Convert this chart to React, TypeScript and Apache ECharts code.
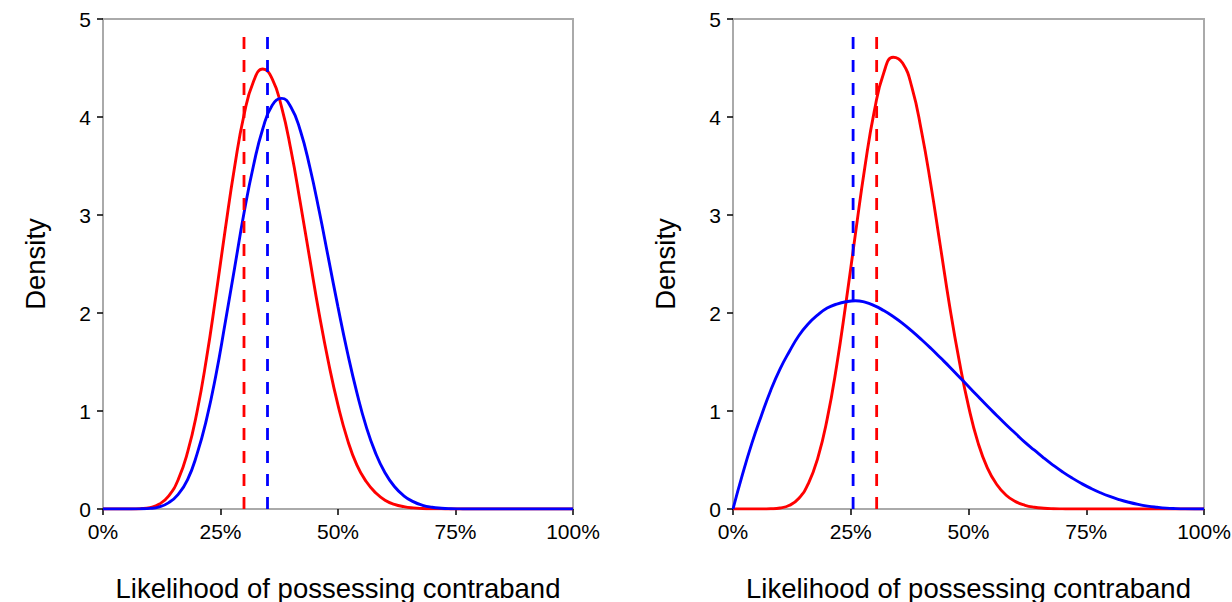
import React, { useEffect, useRef } from "react";
import * as echarts from "echarts";

// x grid: 0 to 1 in steps of 0.02 (51 points)
const leftRed = [
  0, 0, 0, 0, 0.003, 0.014, 0.05, 0.135, 0.3, 0.58,
  0.99, 1.53, 2.17, 2.85, 3.49, 4.02, 4.36, 4.49, 4.39, 4.1,
  3.66, 3.12, 2.55, 1.99, 1.49, 1.06, 0.71, 0.45, 0.28, 0.165,
  0.09, 0.048, 0.024, 0.011, 0.005, 0.002, 0.001, 0, 0, 0,
  0, 0, 0, 0, 0, 0, 0, 0, 0, 0, 0,
];
const leftBlue = [
  0, 0, 0, 0, 0.002, 0.006, 0.022, 0.065, 0.15, 0.3,
  0.56, 0.91, 1.36, 1.9, 2.46, 3.02, 3.5, 3.88, 4.12, 4.19,
  4.1, 3.86, 3.49, 3.04, 2.55, 2.06, 1.6, 1.19, 0.84, 0.57,
  0.37, 0.23, 0.135, 0.075, 0.038, 0.018, 0.008, 0.003, 0.001, 0,
  0, 0, 0, 0, 0, 0, 0, 0, 0, 0, 0,
];
const rightRed = [
  0, 0, 0, 0, 0.002, 0.01, 0.038, 0.11, 0.26, 0.52,
  0.92, 1.46, 2.11, 2.81, 3.49, 4.06, 4.45, 4.61, 4.55, 4.3,
  3.86, 3.31, 2.69, 2.07, 1.52, 1.05, 0.68, 0.42, 0.25, 0.14,
  0.075, 0.038, 0.018, 0.008, 0.003, 0.001, 0, 0, 0, 0,
  0, 0, 0, 0, 0, 0, 0, 0, 0, 0, 0,
];
const rightBlue = [
  0, 0.35, 0.67, 0.95, 1.21, 1.43, 1.61, 1.77, 1.89, 1.98,
  2.05, 2.09, 2.115, 2.125, 2.11, 2.075, 2.025, 1.965, 1.895, 1.815,
  1.73, 1.64, 1.545, 1.45, 1.35, 1.25, 1.15, 1.05, 0.955, 0.86,
  0.77, 0.68, 0.6, 0.52, 0.446, 0.378, 0.316, 0.26, 0.21, 0.166,
  0.128, 0.096, 0.069, 0.047, 0.03, 0.018, 0.009, 0.004, 0.001, 0, 0,
];

// vertical dashed reference lines (x positions)
const leftRedLine = 0.3;
const leftBlueLine = 0.35;
const rightBlueLine = 0.255;
const rightRedLine = 0.305;
const dashTop = 4.91;

const xTickLabels = ["0%", "25%", "50%", "75%", "100%"];
const xTitle = "Likelihood of possessing contraband";
const yTitle = "Density";

const RED = "#ff0000";
const BLUE = "#0000ff";
const GRAY = "#aaaaaa";
const FONT = "Liberation Sans, Arial, Helvetica, sans-serif";

export default function App() {
  const ref = useRef<HTMLDivElement>(null);

  useEffect(() => {
    const chart = echarts.init(ref.current!, null, { renderer: "svg" });
    const xs = leftRed.map((_, i) => i / 50);
    const pts = (arr: number[]) => xs.map((x, i) => [x, arr[i]]);

    const xAxisBase = (gridIndex: number) => ({
      gridIndex,
      type: "value",
      min: 0,
      max: 1,
      interval: 0.25,
      axisLine: { show: true, onZero: false, lineStyle: { color: GRAY, width: 2 } },
      axisTick: { show: true, length: 6, lineStyle: { color: "#000", width: 1.5 } },
      axisLabel: {
        fontSize: 21,
        color: "#000",
        fontFamily: FONT,
        margin: 12,
        formatter: (v: number) => xTickLabels[Math.round(v / 0.25)],
      },
      splitLine: { show: false },
      name: xTitle,
      nameLocation: "middle",
      nameGap: 65,
      nameTextStyle: { fontSize: 27.5, color: "#000", fontFamily: FONT },
    });
    const yAxisBase = (gridIndex: number) => ({
      gridIndex,
      type: "value",
      min: 0,
      max: 5,
      interval: 1,
      axisLine: { show: true, lineStyle: { color: GRAY, width: 2 } },
      axisTick: { show: true, length: 6, lineStyle: { color: "#000", width: 1.5 } },
      axisLabel: { fontSize: 21, color: "#000", fontFamily: FONT, margin: 12 },
      splitLine: { show: false },
      name: yTitle,
      nameLocation: "middle",
      nameGap: 54,
      nameTextStyle: { fontSize: 27.5, color: "#000", fontFamily: FONT },
    });

    const curve = (idx: number, arr: number[], color: string) => ({
      type: "line",
      xAxisIndex: idx,
      yAxisIndex: idx,
      data: pts(arr),
      smooth: true,
      symbol: "none",
      silent: true,
      lineStyle: { color, width: 2.9 },
    });
    const dash = (idx: number, x: number, color: string) => ({
      type: "line",
      xAxisIndex: idx,
      yAxisIndex: idx,
      data: [
        [x, 0],
        [x, dashTop],
      ],
      symbol: "none",
      silent: true,
      lineStyle: { color, width: 2.8, type: [12, 11] },
    });

    const gridBase = {
      top: 19,
      height: 490,
      show: true,
      borderColor: GRAY,
      borderWidth: 2,
      containLabel: false,
      outerBoundsMode: "none",
    };

    chart.setOption({
      animation: false,
      backgroundColor: "#ffffff",
      grid: [
        { ...gridBase, left: 103, width: 470 },
        { ...gridBase, left: 733, width: 471 },
      ],
      xAxis: [xAxisBase(0), xAxisBase(1)],
      yAxis: [yAxisBase(0), yAxisBase(1)],
      series: [
        curve(0, leftRed, RED),
        curve(0, leftBlue, BLUE),
        dash(0, leftRedLine, RED),
        dash(0, leftBlueLine, BLUE),
        curve(1, rightRed, RED),
        curve(1, rightBlue, BLUE),
        dash(1, rightBlueLine, BLUE),
        dash(1, rightRedLine, RED),
      ],
    });
    return () => chart.dispose();
  }, []);

  return (
    <div
      ref={ref}
      style={{ position: "fixed", left: 0, top: 0, width: 1232, height: 602, background: "#fff" }}
    />
  );
}
